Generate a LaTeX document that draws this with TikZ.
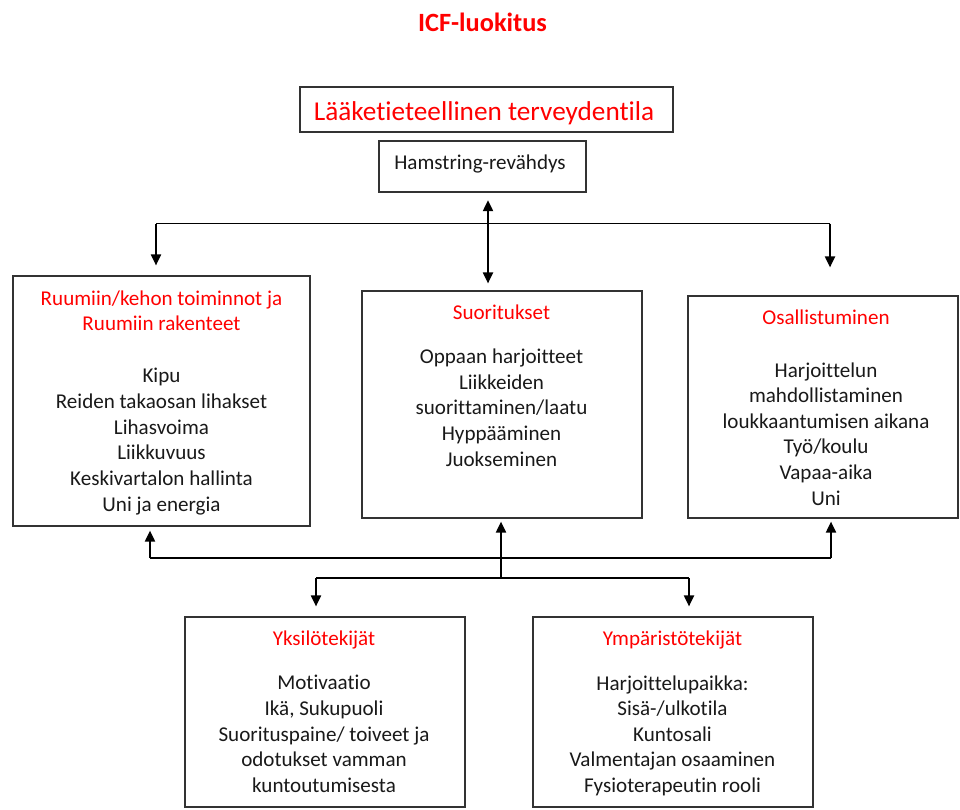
\documentclass[tikz,border=0pt]{standalone}
\usepackage{fontspec}
\setmainfont{Carlito}[Ligatures=NoCommon]
\usetikzlibrary{arrows.meta}

\begin{document}
\begin{tikzpicture}[x=0.02cm,y=-0.02cm]
    \tikzset{
        boxframe/.style={draw=black!80, line width=0.8pt, inner sep=0pt},
        headtext/.style={text=red, font=\fontsize{12}{14.6}\selectfont, align=center, inner sep=0pt, anchor=north},
        itemtext/.style={text=black!90, font=\fontsize{12}{14.6}\selectfont, align=center, inner sep=0pt, anchor=north},
        arr/.style={-{Triangle[length=6.2pt,width=5.8pt]}, line width=0.75pt},
        dblarr/.style={{Triangle[length=6.2pt,width=5.8pt]}-{Triangle[length=6.2pt,width=5.8pt]}, line width=0.75pt}
    }
    \useasboundingbox (0,0) rectangle (960,809);

    % Title
    \node[text=red, font=\fontsize{15}{18}\selectfont\bfseries, inner sep=0pt, anchor=north] (title) at (482.5,12.5) {ICF-luokitus};

    % Health condition
    \node[boxframe, minimum width=7.46cm, minimum height=0.9cm] (health) at (486.5,109.5) {};
    \node[text=red, font=\fontsize{15.5}{18}\selectfont, inner sep=0pt, anchor=north] (healthtxt) at (484,101.5) {Lääketieteellinen terveydentila};
    \node[boxframe, minimum width=4.14cm, minimum height=1.02cm] (injury) at (482.5,166.5) {};
    \node[itemtext] (injurytxt) at (480,155) {Hamstring-revähdys};

    % Row 1 (body, activity, participation)
    \node[boxframe, minimum width=5.94cm, minimum height=5cm] (body) at (161.5,401) {};
    \node[headtext] (bodyhead) at (161.5,290) {Ruumiin/kehon toiminnot ja\\Ruumiin rakenteet};
    \node[itemtext] (bodyitems) at (161.5,368) {Kipu\\Reiden takaosan lihakset\\Lihasvoima\\Liikkuvuus\\Keskivartalon hallinta\\Uni ja energia};

    \node[boxframe, minimum width=5.6cm, minimum height=4.54cm] (act) at (502,404.5) {};
    \node[headtext] (acthead) at (501.5,304.5) {Suoritukset};
    \node[itemtext] (actitems) at (501.5,348.5) {Oppaan harjoitteet\\Liikkeiden\\suorittaminen/laatu\\Hyppääminen\\Juokseminen};

    \node[boxframe, minimum width=5.4cm, minimum height=4.44cm] (part) at (823,407) {};
    \node[headtext] (parthead) at (826,310) {Osallistuminen};
    \node[itemtext] (partitems) at (826,362) {Harjoittelun\\mahdollistaminen\\loukkaantumisen aikana\\Työ/koulu\\Vapaa-aika\\Uni};

    % Row 2 (personal, environment)
    \node[boxframe, minimum width=5.6cm, minimum height=3.8cm] (pers) at (325,712) {};
    \node[headtext] (pershead) at (324,630.5) {Yksilötekijät};
    \node[itemtext] (persitems) at (324,675) {Motivaatio\\Ikä, Sukupuoli\\Suorituspaine/ toiveet ja\\odotukset vamman\\kuntoutumisesta};

    \node[boxframe, minimum width=5.6cm, minimum height=3.8cm] (env) at (673,712) {};
    \node[headtext] (envhead) at (672.5,630.5) {Ympäristötekijät};
    \node[itemtext] (envitems) at (672.5,675) {Harjoittelupaikka:\\Sisä-/ulkotila\\Kuntosali\\Valmentajan osaaminen\\Fysioterapeutin rooli};

    % Upper connectors
    \coordinate (topL) at (156,223.5);
    \coordinate (topR) at (830,223.5);
    \coordinate (topM) at (488,223.5);
    \draw[line width=0.75pt] (topL) -- (topR);
    \draw[arr, shorten >=0.2cm] (topL) -- (topL |- body.north);
    \draw[arr, shorten >=0.56cm] (topR) -- (topR |- part.north);
    \draw[dblarr, shorten <=0.15cm, shorten >=0.14cm] (topM |- injury.south) -- (topM |- act.north);

    % Lower connectors
    \coordinate (botL) at (150,558);
    \coordinate (botR) at (831,558);
    \coordinate (botM) at (501,578);
    \coordinate (persc) at (316,578);
    \coordinate (envc) at (689,578);
    \draw[line width=0.75pt] (botL) -- (botR);
    \draw[arr, shorten >=0.08cm] (botL) -- (botL |- body.south);
    \draw[arr, shorten >=0.06cm] (botR) -- (botR |- part.south);
    \draw[arr, shorten >=0.06cm] (botM) -- (botM |- act.south);
    \draw[line width=0.75pt] (persc) -- (envc);
    \draw[arr, shorten >=0.2cm] (persc) -- (persc |- pers.north);
    \draw[arr, shorten >=0.2cm] (envc) -- (envc |- env.north);

\end{tikzpicture}
\end{document}
